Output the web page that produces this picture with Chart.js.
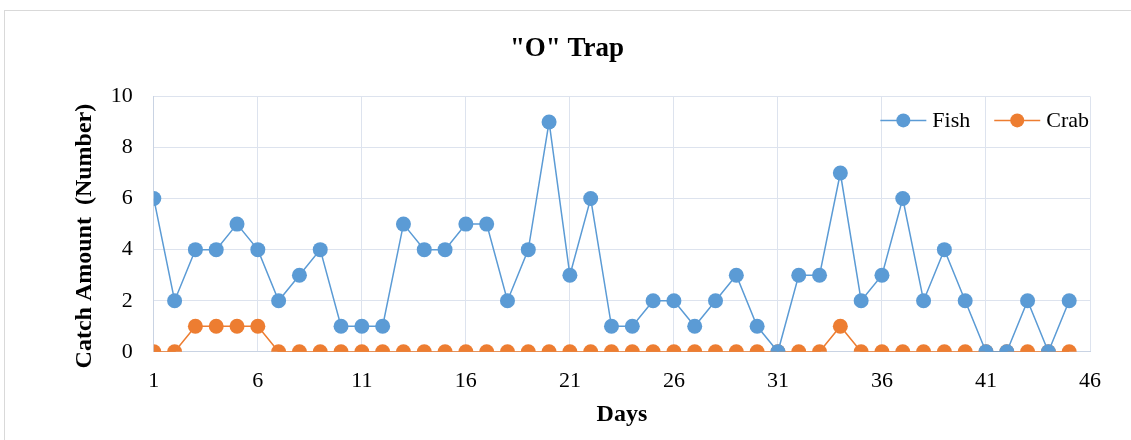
<!DOCTYPE html>
<html>
<head>
<meta charset="utf-8">
<script src="https://cdn.jsdelivr.net/npm/chart.js@4/dist/chart.umd.min.js"></script>
<style>
    body { margin: 0; background: #fff; }
    #frame { position: absolute; left: 4px; top: 10px; width: 1140px; height: 440px; border: 1px solid #d9d9d9; }
    #wrap { position: absolute; left: 0; top: 0; width: 1131px; height: 440px; }
</style>
</head>
<body>
<div id="frame"></div>
<div id="wrap"><canvas id="trapChart" width="1131" height="440"></canvas></div>
<script>
const days = [1, 2, 3, 4, 5, 6, 7, 8, 9, 10, 11, 12, 13, 14, 15, 16, 17, 18, 19, 20, 21, 22, 23,
    24, 25, 26, 27, 28, 29, 30, 31, 32, 33, 34, 35, 36, 37, 38, 39, 40, 41, 42, 43, 44, 45];
const fish = [6, 2, 4, 4, 5, 4, 2, 3, 4, 1, 1, 1, 5, 4, 4, 5, 5, 2, 4, 9, 3, 6, 1,
    1, 2, 2, 1, 2, 3, 1, 0, 3, 3, 7, 2, 3, 6, 2, 4, 2, 0, 0, 2, 0, 2];
const crab = [0, 0, 1, 1, 1, 1, 0, 0, 0, 0, 0, 0, 0, 0, 0, 0, 0, 0, 0, 0, 0, 0, 0,
    0, 0, 0, 0, 0, 0, 0, 0, 0, 0, 1, 0, 0, 0, 0, 0, 0, 0, 0, 0, 0, 0];
const xTicks = [1, 6, 11, 16, 21, 26, 31, 36, 41, 46];

const fishColor = '#5b9bd5';
const crabColor = '#ed7d31';
const serif = '"Liberation Serif", "Times New Roman", serif';

// Excel style legend (line with dot) in the top right corner of the plot
const insideLegend = {
    id: 'insideLegend',
    afterDraw: (chart) => {
        const { ctx, chartArea } = chart;
        const items = chart.data.datasets;
        ctx.save();
        ctx.font = `22px ${serif}`;
        ctx.textBaseline = 'middle';
        const y = chartArea.top + 24;
        let x = chartArea.right - 1;
        for (let i = items.length - 1; i >= 0; i--) {
            const ds = items[i];
            const textW = ctx.measureText(ds.label).width;
            x -= textW;
            ctx.fillStyle = '#000';
            ctx.fillText(ds.label, x, y + 1);
            x -= 6;
            ctx.strokeStyle = ds.borderColor;
            ctx.lineWidth = 1.5;
            ctx.beginPath();
            ctx.moveTo(x - 46, y);
            ctx.lineTo(x, y);
            ctx.stroke();
            ctx.fillStyle = ds.borderColor;
            ctx.beginPath();
            ctx.arc(x - 23, y, 7, 0, Math.PI * 2);
            ctx.fill();
            x -= 46 + 24;
        }
        ctx.restore();
    },
};

const toPoints = (values) => values.map((v, i) => ({ x: days[i], y: v }));

const ctx = document.getElementById('trapChart').getContext('2d');
new Chart(ctx, {
    type: 'line',
    data: {
        datasets: [
            {
                label: 'Fish',
                data: toPoints(fish),
                borderColor: fishColor,
                backgroundColor: fishColor,
                borderWidth: 1.5,
                pointRadius: 7.5,
                pointHoverRadius: 7.5,
                pointBorderWidth: 0,
            },
            {
                label: 'Crab',
                data: toPoints(crab),
                borderColor: crabColor,
                backgroundColor: crabColor,
                borderWidth: 1.5,
                pointRadius: 7.5,
                pointHoverRadius: 7.5,
                pointBorderWidth: 0,
            },
        ],
    },
    plugins: [insideLegend],
    options: {
        responsive: false,
        animation: false,
        layout: { padding: { left: 44, right: 41, top: 20, bottom: 7 } },
        plugins: {
            title: {
                display: true,
                text: '"O" Trap',
                color: '#000',
                font: { family: serif, size: 27, weight: 'bold' },
                padding: { top: 13, bottom: 31 },
            },
            legend: { display: false },
            tooltip: { enabled: false },
        },
        scales: {
            x: {
                type: 'linear',
                min: 1,
                max: 46,
                afterBuildTicks: (axis) => { axis.ticks = xTicks.map((v) => ({ value: v })); },
                grid: { color: '#dde3ee', drawTicks: false },
                border: { color: '#c9d3e3' },
                ticks: { color: '#000', font: { family: serif, size: 22 }, padding: 16, maxRotation: 0 },
                title: {
                    display: true,
                    text: 'Days',
                    color: '#000',
                    font: { family: serif, size: 24, weight: 'bold' },
                    padding: { top: -10, bottom: 4 },
                },
            },
            y: {
                min: 0,
                max: 10,
                ticks: { stepSize: 2, color: '#000', font: { family: serif, size: 22 }, padding: 21 },
                grid: { color: '#dde3ee', drawTicks: false },
                border: { color: '#c9d3e3' },
                title: {
                    display: true,
                    // trailing spaces push the centred title a little lower, as in the original
                    text: 'Catch Amount  (Number)    ',
                    color: '#000',
                    font: { family: serif, size: 24, weight: 'bold' },
                    padding: { top: 26, bottom: -9 },
                },
            },
        },
    },
});
</script>
</body>
</html>
